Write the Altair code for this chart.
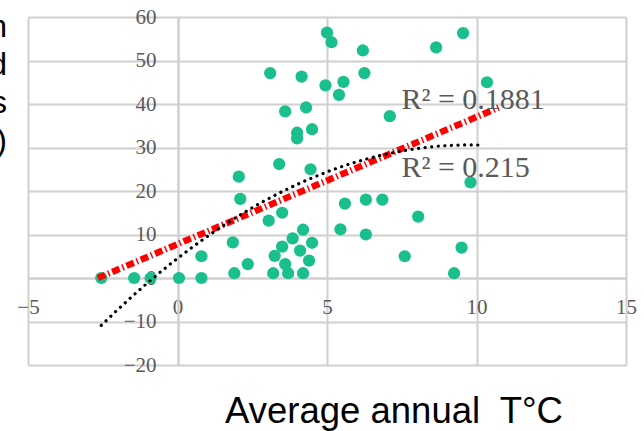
import altair as alt
import pandas as pd

# ---- data ----
temp_c = [-2.55, -1.45, -0.9, 0.05, 0.8, 0.8, 1.85, 1.9, 2.05, 2.1,
          2.35, 3.05, 3.1, 3.2, 3.25, 3.4, 3.5, 3.5, 3.6, 3.6,
          3.7, 3.85, 4.0, 4.0, 4.1, 4.15, 4.2, 4.2, 4.3, 4.4,
          4.45, 4.5, 4.5, 4.95, 5.0, 5.15, 5.4, 5.45, 5.55, 5.6,
          6.2, 6.25, 6.3, 6.3, 6.85, 7.1, 7.6, 8.05, 8.65, 9.25,
          9.5, 9.55, 9.8, 10.35]
values = [0, 0, 0, 0, 0, 5, 8.2, 1.1, 23.3, 18.2,
          3.2, 13.2, 47.1, 1.1, 5.1, 26.2, 15, 7.2, 38.3, 3.2,
          1.1, 9.1, 33.4, 32.1, 6.3, 46.3, 11.1, 1.1, 39.2, 4.0,
          25, 34.2, 8.1, 44.3, 56.4, 54.2, 42.1, 11.2, 45.1, 17.1,
          52.3, 47.1, 18, 10.0, 18, 37.2, 5.0, 14.1, 53.0, 1.1,
          7.0, 56.3, 22.0, 45.0]
x_ticks = [-5, 0, 5, 10, 15]
y_ticks = [-20, -10, 0, 10, 20, 30, 40, 50, 60]
r2_linear = ["R² = 0.1881"]
r2_poly = ["R² = 0.215"]
x_title = ["Average annual\u00a0 T°C"]
y_title_visible = ["n", "d", "s", ")"]

df = pd.DataFrame({"t": temp_c, "v": values})

xscale = alt.Scale(domain=[-5, 15], nice=False, zero=False)
yscale = alt.Scale(domain=[-20, 60], nice=False, zero=False)

base = alt.Chart(df)

points = base.mark_circle(size=150, color="#19bf8c", opacity=1).encode(
    x=alt.X("t:Q", scale=xscale,
            axis=alt.Axis(values=x_ticks, offset=-87, title=None, grid=True,
                          labelFlush=False, labelPadding=18, ticks=False,
                          labelOverlap=False)),
    y=alt.Y("v:Q", scale=yscale,
            axis=alt.Axis(values=y_ticks, offset=-150, title=None, grid=True,
                          labelPadding=22, ticks=False, labelOverlap=False,
                          labelBaseline="middle")),
)

poly = base.transform_regression(
    "t", "v", method="poly", order=2, extent=[-2.55, 10.16]
).mark_line(color="black", strokeWidth=3.2, strokeDash=[0.1, 6.5],
            strokeCap="round").encode(x="t:Q", y="v:Q")

linear = base.transform_regression(
    "t", "v", method="linear", extent=[-2.66, 10.74]
).mark_line(color="#ff0000", strokeWidth=6.5, strokeDash=[8, 3, 1.5, 3],
            strokeCap="butt").encode(x="t:Q", y="v:Q")

lab1 = alt.Chart(pd.DataFrame({"label": r2_linear})).mark_text(
    font="Liberation Serif", fontSize=30, color="#595959",
    align="left", baseline="alphabetic"
).encode(x=alt.datum(7.49), y=alt.datum(38.9), text="label:N")

lab2 = alt.Chart(pd.DataFrame({"label": r2_poly})).mark_text(
    font="Liberation Serif", fontSize=30, color="#595959",
    align="left", baseline="alphabetic"
).encode(x=alt.datum(7.49), y=alt.datum(23.2), text="label:N")

xt = alt.Chart(pd.DataFrame({"label": x_title})).mark_text(
    font="Liberation Sans", fontSize=36.5, color="black",
    align="center", baseline="alphabetic"
).encode(x=alt.value(366), y=alt.value(406), text="label:N")

yt = alt.Chart(pd.DataFrame({"k": [0]})).mark_text(
    font="Liberation Sans", fontSize=32, color="black",
    align="right", baseline="alphabetic", lineHeight=38
).encode(x=alt.value(-21), y=alt.value(20), text=alt.value(y_title_visible))

chart = alt.layer(points, linear, poly, lab1, lab2, xt, yt).properties(
    width=598, height=348,
    autosize=alt.AutoSizeParams(type="none"),
    padding={"left": 28, "top": 17, "right": 18, "bottom": 66},
    background="white",
).configure_view(stroke=None).configure_axis(
    domainColor="#d0d0d0", domainWidth=2,
    gridColor="#d0d0d0", gridWidth=2,
    labelFont="Liberation Serif", labelFontSize=21, labelColor="#595959",
)

chart.save("out.html", embed_options={"renderer": "svg", "actions": False})
